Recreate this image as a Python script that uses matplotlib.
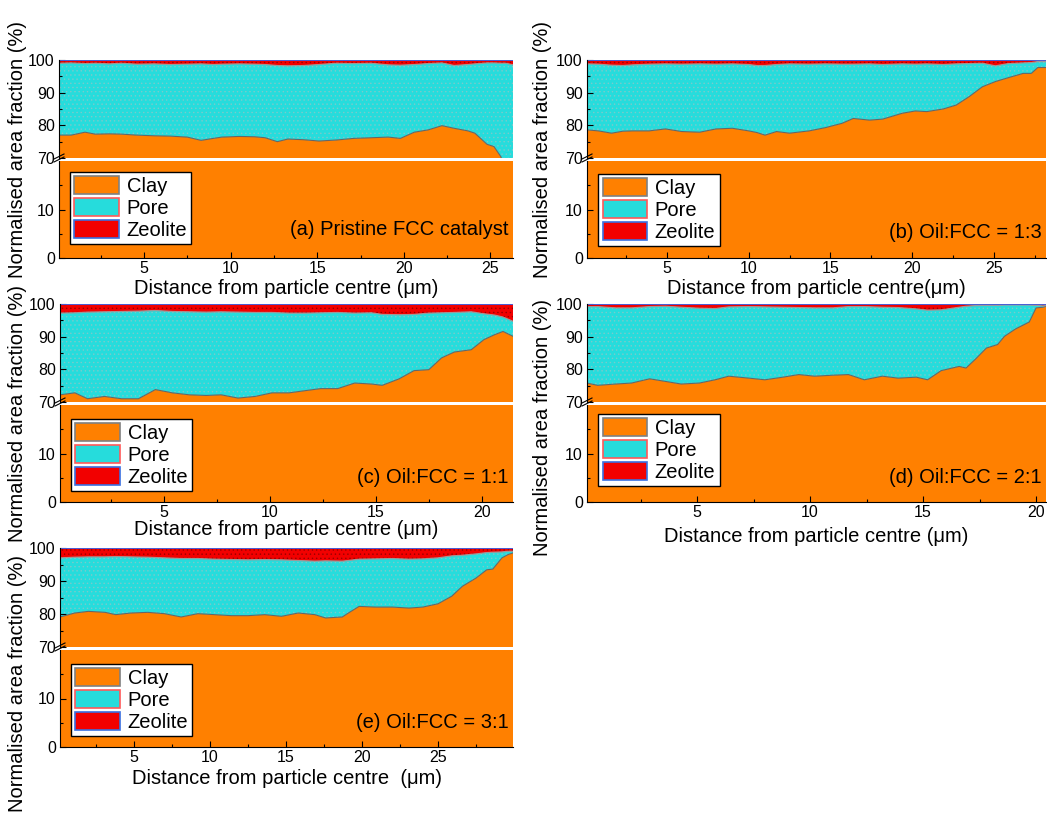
import matplotlib
matplotlib.use("Agg")
import matplotlib.pyplot as plt
from matplotlib.lines import Line2D
from matplotlib.patches import Patch
from matplotlib.ticker import MultipleLocator

plt.rcParams["font.family"] = ["Liberation Sans", "DejaVu Sans"]
plt.rcParams["hatch.linewidth"] = 0.5

W, H = 1047, 814

# (a) pristine FCC catalyst: distance (um), clay boundary, clay+pore boundary (%)
dist_a = [0.1, 0.8, 1.6, 2.2, 3.0, 3.7, 4.6, 5.6, 6.5, 7.5, 8.3, 9.0, 9.5, 10.5, 11.4, 12.0,
          12.7, 13.3, 14.2, 15.1, 16.1, 17.1, 18.1, 19.1, 19.8, 20.6, 21.4, 22.2, 22.9, 23.7,
          24.1, 24.8, 25.2, 25.6, 25.9, 26.3]
clay_a = [77.0, 77.0, 77.9, 77.3, 77.4, 77.3, 77.0, 76.8, 76.7, 76.4, 75.4, 76.0, 76.4, 76.6,
          76.5, 76.2, 75.0, 75.8, 75.6, 75.2, 75.5, 76.0, 76.2, 76.4, 76.0, 77.9, 78.6, 79.9,
          79.1, 78.3, 77.6, 74.2, 73.5, 70.4, 66.0, 62.0]
pore_top_a = [99.0, 99.1, 98.9, 99.0, 98.8, 99.0, 98.7, 98.8, 98.6, 98.7, 98.8, 98.6, 98.7, 98.8,
              98.7, 98.6, 98.3, 98.2, 98.3, 98.6, 99.0, 98.9, 99.0, 98.5, 98.4, 98.6, 98.9, 99.1,
              98.3, 98.6, 98.8, 99.1, 99.1, 99.0, 99.0, 98.5]

# (b) Oil:FCC = 1:3
dist_b = [0.1, 0.8, 1.6, 2.3, 2.9, 3.9, 4.9, 5.9, 7.0, 8.0, 9.0, 10.0, 10.5, 11.0, 11.7, 12.5,
          13.7, 14.7, 15.7, 16.4, 17.4, 18.2, 19.4, 20.2, 20.9, 21.9, 22.7, 23.5, 24.3, 25.1,
          25.9, 26.8, 27.3, 27.7, 28.2]
clay_b = [78.6, 78.3, 77.6, 78.2, 78.3, 78.3, 78.9, 78.1, 77.9, 78.9, 79.1, 78.3, 77.8, 77.0,
          78.1, 77.6, 78.3, 79.3, 80.6, 82.1, 81.6, 81.9, 83.7, 84.4, 84.2, 85.0, 86.2, 88.8,
          91.8, 93.4, 94.6, 95.9, 95.9, 97.7, 97.7]
pore_top_b = [98.8, 98.7, 98.4, 98.3, 98.5, 98.7, 98.8, 98.7, 98.8, 98.7, 98.8, 98.6, 98.3, 98.3,
              98.6, 98.8, 98.7, 98.8, 98.7, 98.7, 98.8, 98.6, 98.8, 98.7, 98.8, 98.6, 98.8, 98.9,
              99.0, 98.2, 98.9, 99.1, 99.2, 99.5, 99.5]

# (c) Oil:FCC = 1:1
dist_c = [0.1, 0.8, 1.4, 2.2, 3.0, 3.8, 4.6, 5.4, 6.2, 7.0, 7.7, 8.5, 9.3, 10.1, 10.9, 11.7,
          12.4, 13.2, 14.0, 14.8, 15.3, 16.1, 16.8, 17.5, 18.1, 18.7, 19.5, 20.1, 20.6, 21.0, 21.47]
clay_c = [72.2, 72.8, 71.0, 71.7, 71.0, 71.0, 73.8, 72.8, 72.2, 72.0, 72.2, 71.2, 71.7, 72.8,
          72.8, 73.5, 74.1, 74.1, 75.8, 75.5, 75.1, 77.1, 79.6, 79.9, 83.5, 85.3, 86.0, 89.1,
          90.6, 91.6, 90.1]
pore_top_c = [97.2, 97.3, 97.5, 97.6, 97.7, 97.8, 98.0, 97.7, 97.6, 97.5, 97.6, 97.5, 97.4, 97.4,
              97.2, 97.2, 97.3, 97.4, 97.2, 97.3, 96.8, 96.7, 96.8, 97.2, 97.3, 97.4, 97.6, 97.0,
              96.6, 96.0, 94.7]

# (d) Oil:FCC = 2:1
dist_d = [0.13, 0.6, 1.4, 2.1, 2.9, 3.6, 4.3, 5.1, 5.8, 6.4, 7.3, 8.0, 8.8, 9.5, 10.2, 11.0,
          11.7, 12.4, 13.2, 13.9, 14.7, 15.2, 15.8, 16.6, 16.9, 17.3, 17.8, 18.3, 18.6, 19.1,
          19.7, 20.0, 20.3, 20.44]
clay_d = [75.8, 75.1, 75.5, 75.8, 77.1, 76.3, 75.5, 75.8, 76.8, 77.9, 77.3, 76.8, 77.6, 78.4,
          77.9, 78.2, 78.4, 76.8, 77.9, 77.3, 77.6, 76.8, 79.6, 80.9, 80.4, 83.0, 86.5, 87.6,
          90.1, 92.4, 94.5, 98.8, 99.0, 99.3]
pore_top_d = [99.2, 99.2, 98.8, 98.8, 99.2, 99.3, 99.0, 98.7, 98.6, 99.1, 99.2, 99.1, 99.0, 98.9,
              98.8, 98.8, 99.2, 99.2, 99.0, 98.9, 98.5, 98.1, 98.2, 99.0, 99.3, 99.5, 99.6, 99.6,
              99.7, 99.7, 99.7, 99.6, 99.4, 99.5]

# (e) Oil:FCC = 3:1
dist_e = [0.13, 1.1, 2.0, 3.1, 3.8, 4.8, 5.9, 7.0, 8.1, 9.2, 10.3, 11.4, 12.5, 13.6, 14.7, 15.8,
          16.9, 17.6, 18.7, 19.1, 19.8, 20.9, 22.0, 23.1, 24.0, 25.0, 25.9, 26.6, 27.5, 28.2,
          28.6, 29.2, 29.6, 29.93]
clay_e = [79.1, 80.3, 80.8, 80.5, 79.8, 80.3, 80.5, 80.1, 79.1, 80.1, 79.8, 79.5, 79.5, 79.8,
          79.3, 80.3, 79.8, 78.8, 79.1, 80.3, 82.3, 82.1, 82.1, 81.8, 82.1, 83.1, 85.4, 88.4,
          90.9, 93.4, 93.6, 97.0, 98.0, 98.5]
pore_top_e = [97.0, 97.2, 97.3, 97.3, 97.4, 97.3, 97.2, 97.0, 96.8, 96.8, 96.6, 96.5, 96.4, 96.5,
              96.4, 96.2, 96.0, 96.1, 96.0, 96.2, 96.6, 96.7, 96.8, 96.6, 96.7, 97.0, 97.6, 97.8,
              98.2, 98.6, 98.7, 98.8, 99.0, 99.0]

tags = ["(a) Pristine FCC catalyst", "(b) Oil:FCC = 1:3", "(c) Oil:FCC = 1:1",
        "(d) Oil:FCC = 2:1", "(e) Oil:FCC = 3:1"]
xlabels = ["Distance from particle centre (\u03bcm)", "Distance from particle centre(\u03bcm)",
           "Distance from particle centre (\u03bcm)", "Distance from particle centre (\u03bcm)",
           "Distance from particle centre  (\u03bcm)"]
phases = ["Clay", "Pore", "Zeolite"]

CLAY = "#FF8000"
PORE = "#26DCDC"
PORE_DOTS = "#7CCACA"
ZEO = "#F20000"
ZEO_DOTS = "#9A0000"

# pixel boxes: left, right, top, break, lower-top, bottom
boxes = [(59, 513, 60, 158, 161, 258), (587, 1046, 60, 158, 161, 258),
         (60, 513, 304, 402, 405, 502), (587, 1046, 304, 402, 405, 502),
         (60, 513, 548, 647, 650, 747)]
labelpads = [2, 2, 0, 5, 3]
legend_y = [0.89, 0.87, 0.86, 0.91, 0.86]
tag_y = [0.29, 0.26, 0.25, 0.25, 0.25]
ylabel_xy = [(18, 150), (542, 150), (18, 414), (542, 428), (18, 683)]


def draw_panel(fig, box, x, clay, pore_top, tag, xlabel, lp, ly, ty, yl):
    left, right, top, brk, ltop, bottom = box
    w = (right - left) / W
    ax_top = fig.add_axes([left / W, 1 - brk / H, w, (brk - top) / H])
    ax_bot = fig.add_axes([left / W, 1 - bottom / H, w, (bottom - ltop) / H])
    for ax in (ax_top, ax_bot):
        ax.fill_between(x, 0, clay, facecolor=CLAY, lw=0)
        ax.fill_between(x, clay, pore_top, facecolor=PORE, lw=0)
        ax.fill_between(x, clay, pore_top, facecolor="none", edgecolor=PORE_DOTS,
                        hatch="....", lw=0)
        ax.fill_between(x, pore_top, 100, facecolor=ZEO, lw=0)
        ax.fill_between(x, pore_top, 100, facecolor="none", edgecolor=ZEO_DOTS,
                        hatch="....", lw=0)
        ax.plot(x, clay, color="#666666", lw=0.8)
        ax.plot(x, pore_top, color="#9a9a9a", lw=0.9)
        ax.axhline(100, color="#4a5fd8", lw=1.4)
        ax.set_xlim(x[0], x[-1])
        ax.spines[["top", "right"]].set_visible(False)
        ax.tick_params(which="both", direction="in", labelsize=11.5, width=0.8)
        ax.tick_params(which="major", length=4)
        ax.tick_params(which="minor", length=2.5)
        ax.tick_params(axis="y", pad=3)
        ax.xaxis.set_major_locator(MultipleLocator(5))
        ax.xaxis.set_minor_locator(MultipleLocator(2.5))

    ax_top.set_ylim(70, 100)
    ax_top.yaxis.set_major_locator(MultipleLocator(10))
    ax_top.yaxis.set_minor_locator(MultipleLocator(5))
    ax_top.spines["bottom"].set_visible(False)
    ax_top.tick_params(which="both", bottom=False, labelbottom=False)

    ax_bot.set_ylim(0, 20)
    ax_bot.set_yticks([0, 10])
    ax_bot.set_yticks([5, 15], minor=True)
    ax_bot.tick_params(axis="x", pad=2)
    ax_bot.set_xlabel(xlabel, fontsize=14.5, labelpad=lp)

    handles = [Patch(facecolor=CLAY, edgecolor="#808080", lw=1.2),
               Patch(facecolor=PORE, edgecolor="#ff5a5a", lw=1.2),
               Patch(facecolor=ZEO, edgecolor="#3a6fe0", lw=1.2)]
    leg = ax_bot.legend(handles, phases, loc="upper left", bbox_to_anchor=(0.025, ly),
                        borderaxespad=0, fancybox=False, edgecolor="black", framealpha=1,
                        fontsize=14.5, handlelength=2.2, handleheight=1.0,
                        labelspacing=0.12, handletextpad=0.4, borderpad=0.2)
    leg.get_frame().set_linewidth(1.0)

    ax_bot.text(0.99, ty, tag, transform=ax_bot.transAxes, ha="right", va="center",
                fontsize=14.5)

    # break marks on the left axis
    for dy in (0, 3):
        fig.add_artist(Line2D([(left - 5) / W, (left + 5) / W],
                              [1 - (brk + 1 + dy) / H, 1 - (brk - 4 + dy) / H],
                              color="black", lw=0.8))

    fig.text(yl[0] / W, 1 - yl[1] / H, "Normalised area fraction (%)", rotation=90,
             ha="center", va="center", fontsize=14.5)


fig = plt.figure(figsize=(W / 100, H / 100), dpi=100)
series = [(dist_a, clay_a, pore_top_a), (dist_b, clay_b, pore_top_b),
          (dist_c, clay_c, pore_top_c), (dist_d, clay_d, pore_top_d),
          (dist_e, clay_e, pore_top_e)]
for i, (x, clay, pore_top) in enumerate(series):
    draw_panel(fig, boxes[i], x, clay, pore_top, tags[i], xlabels[i], labelpads[i],
               legend_y[i], tag_y[i], ylabel_xy[i])

fig.savefig("out.png", dpi=100)
